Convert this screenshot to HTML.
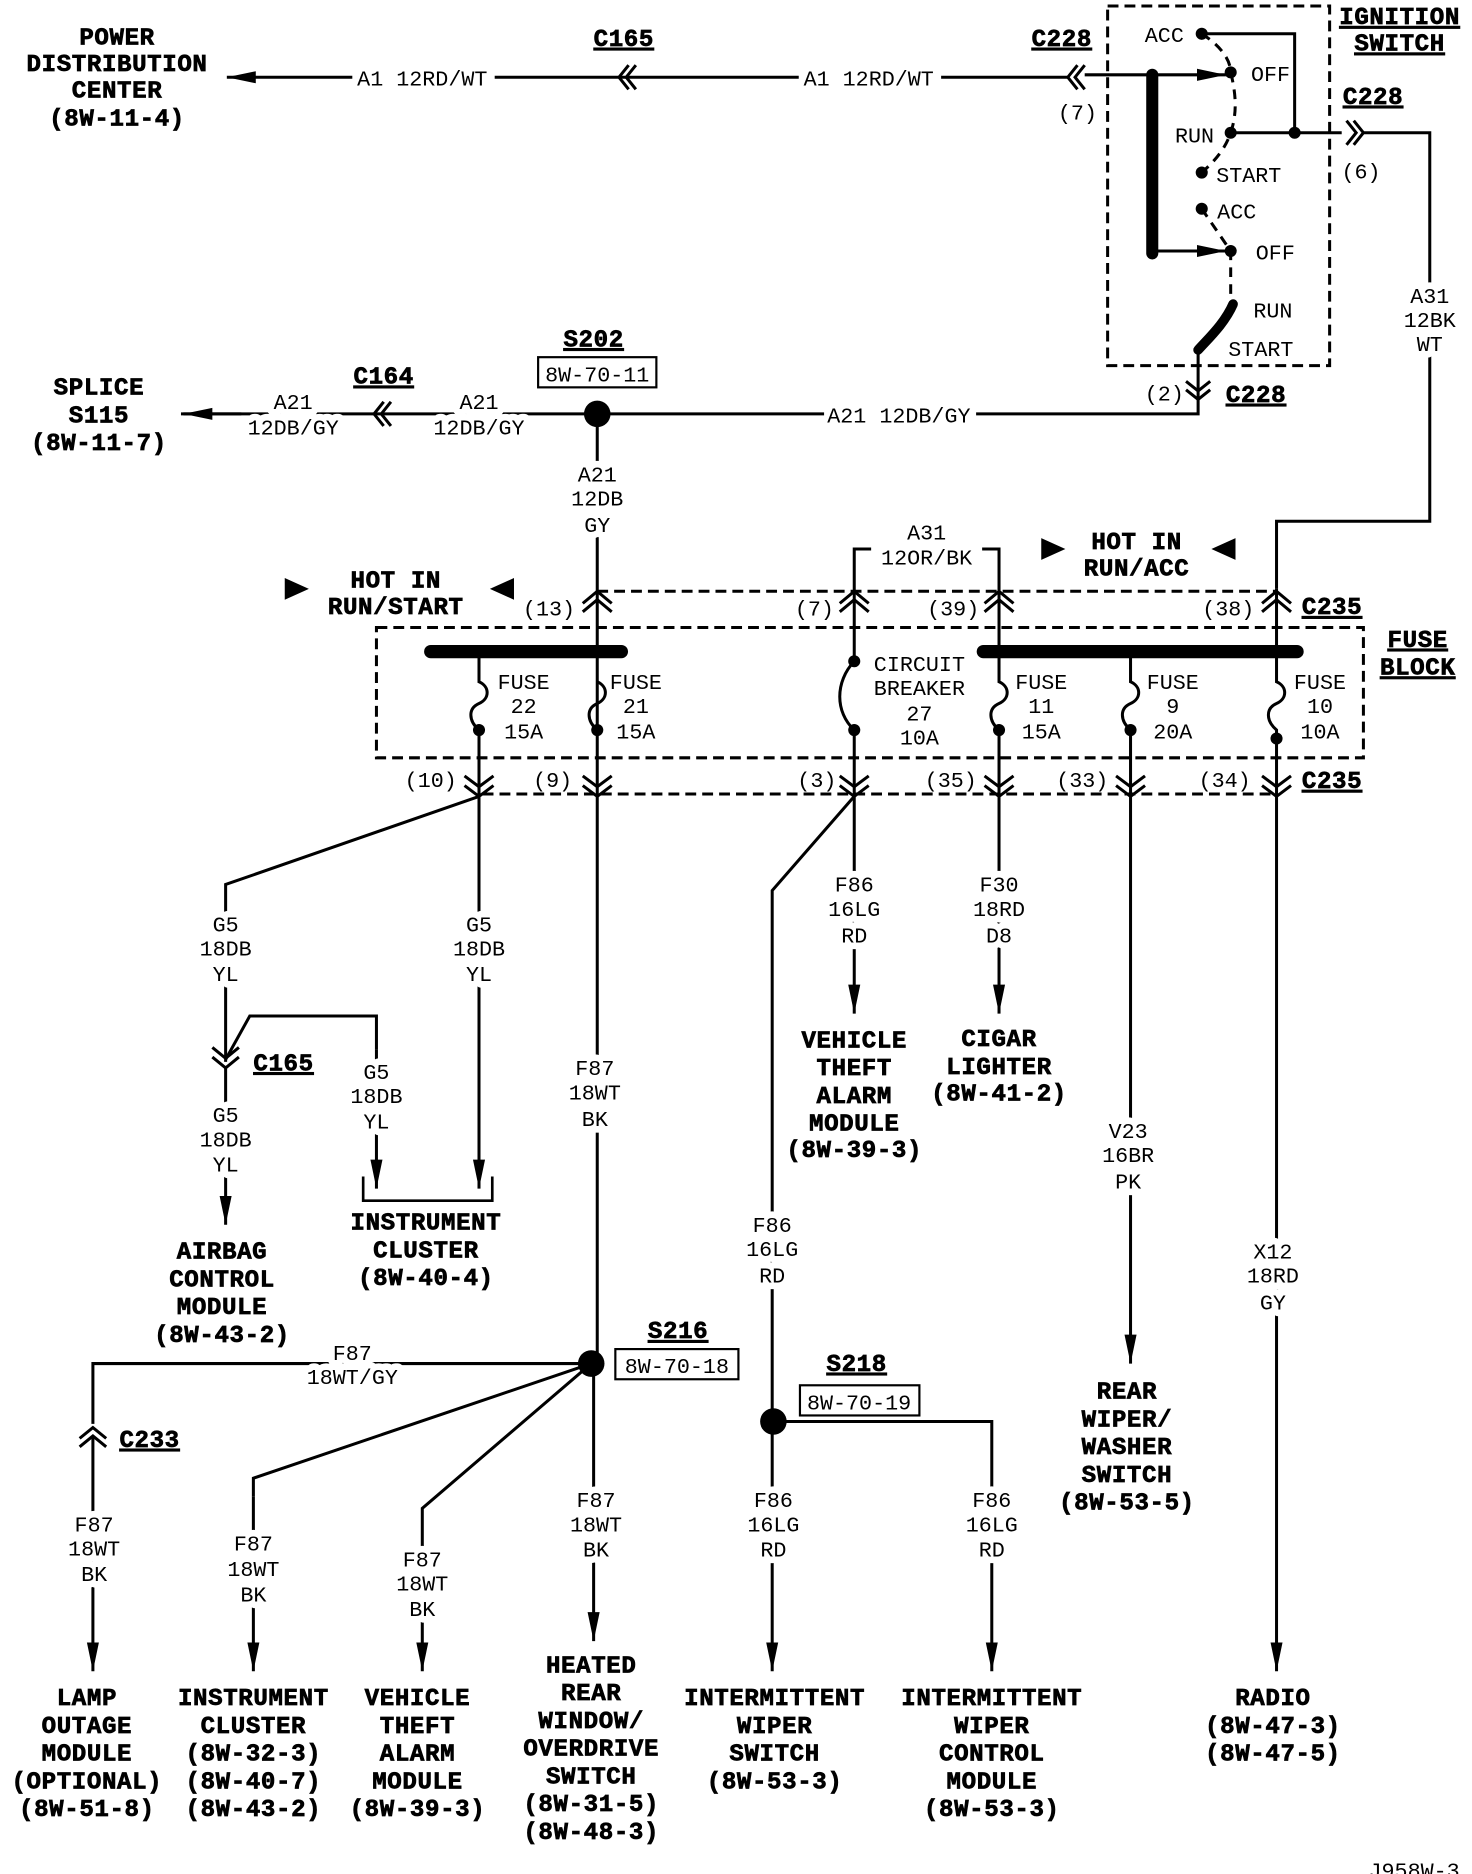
<!DOCTYPE html>
<html><head><meta charset="utf-8"><style>
html,body{margin:0;padding:0;background:#fff}
svg{display:block}
text{font-family:"Liberation Mono",monospace;font-size:18px;fill:#000}
.b{font-weight:bold;font-size:20px;letter-spacing:0.5px;stroke:#000;stroke-width:0.6}
.u{text-decoration:underline}
.h{stroke:#fff;stroke-width:11;paint-order:stroke;stroke-linejoin:round}
</style></head><body>
<svg width="1472" height="1874" viewBox="0 0 1220 1553" preserveAspectRatio="none" xmlns="http://www.w3.org/2000/svg">
<defs>
<marker id="a" markerUnits="userSpaceOnUse" markerWidth="26" markerHeight="14" refX="24" refY="6" orient="auto"><path d="M0,1 L24,6 L0,11 Z" fill="#000"/></marker>
</defs>
<g fill="none" stroke="#000" stroke-width="2.5">
<line x1="885" y1="64" x2="188" y2="64" marker-end="url(#a)"/>
<path d="M521,54 L513,64 L521,74 M527,54 L519,64 L527,74"/>
<path d="M893,54 L885,64 L893,74 M899,54 L891,64 L899,74"/>
<line x1="899" y1="62" x2="1016" y2="62" marker-end="url(#a)"/>
<rect x="918" y="5" width="184" height="298" stroke-dasharray="9,5"/>
<line x1="955" y1="62" x2="955" y2="210" stroke-width="10" stroke-linecap="round"/>
<line x1="955" y1="208" x2="1016" y2="208" marker-end="url(#a)"/>
<polyline points="996,28 1073,28 1073,110"/>
<line x1="1020" y1="110" x2="1112" y2="110"/>
<path d="M1116,100 L1124,110 L1116,120 M1122,100 L1130,110 L1122,120"/>
<polyline points="1130,110 1185,110 1185,432 1058,432 1058,488"/>
<path d="M996,28 C1012,38 1020,50 1020,60 C1025,80 1025,95 1020,110 C1015,125 1005,135 996,143" stroke-dasharray="8,6"/>
<path d="M996,173 L1020,208 L1020,250" stroke-dasharray="8,6"/>
<path d="M1022,252 C1015,268 1002,280 993,290" stroke-width="8" stroke-linecap="round"/>
<polyline points="993,290 993,343 150,343"/>
<path d="M983,316 L993,324 L1003,316 M983,323 L993,331 L1003,323"/>
<path d="M318,333 L310,343 L318,353 M324,333 L316,343 L324,353"/>
<line x1="200" y1="343" x2="152" y2="343" marker-end="url(#a)"/>
<rect x="446" y="296" width="98" height="25" stroke-width="1.8"/>
<line x1="495" y1="343" x2="495" y2="1130"/>
<line x1="495" y1="490" x2="1058" y2="490" stroke-dasharray="9,5"/>
<rect x="312" y="520" width="818" height="108" stroke-dasharray="9,5"/>
<line x1="400" y1="658" x2="1058" y2="658" stroke-dasharray="9,5"/>
<polyline points="708,490 708,455 722,455"/>
<polyline points="814,455 828,455 828,490"/>
<line x1="708" y1="490" x2="708" y2="548"/>
<line x1="708" y1="605" x2="708" y2="660"/>
<path d="M708,548 C692,565 692,590 708,605"/>
<line x1="357" y1="540" x2="515" y2="540" stroke-width="11" stroke-linecap="round"/>
<line x1="815" y1="540" x2="1075" y2="540" stroke-width="11" stroke-linecap="round"/>
<path d="M397,540 V565 c9,4 9,14 0,18 c-9,4 -9,14 0,22 V660"/>
<path d="M495,565 c9,4 9,14 0,18 c-9,4 -9,14 0,22" />
<path d="M828,490 V565 c9,4 9,14 0,18 c-9,4 -9,14 0,22 V660"/>
<path d="M937,540 V565 c9,4 9,14 0,18 c-9,4 -9,14 0,22 V660"/>
<path d="M1058,488 V565 c9,4 9,14 0,18 c-9,4 -9,14 0,22 V660"/>
<path d="M483,500 L495,490 L507,500 M483,507 L495,497 L507,507"/>
<path d="M696,500 L708,490 L720,500 M696,507 L708,497 L720,507"/>
<path d="M816,500 L828,490 L840,500 M816,507 L828,497 L840,507"/>
<path d="M1046,500 L1058,490 L1070,500 M1046,507 L1058,497 L1070,507"/>
<path d="M385,643 L397,652 L409,643 M385,651 L397,660 L409,651"/>
<path d="M483,643 L495,652 L507,643 M483,651 L495,660 L507,651"/>
<path d="M696,643 L708,652 L720,643 M696,651 L708,660 L720,651"/>
<path d="M816,643 L828,652 L840,643 M816,651 L828,660 L840,651"/>
<path d="M925,643 L937,652 L949,643 M925,651 L937,660 L949,651"/>
<path d="M1046,643 L1058,652 L1070,643 M1046,651 L1058,660 L1070,651"/>
<polyline points="397,660 187,733 187,880"/>
<path d="M176,868 L187,877 L198,868 M176,876 L187,885 L198,876"/>
<line x1="187" y1="885" x2="187" y2="1015" marker-end="url(#a)"/>
<polyline points="187,878 207,842 312,842 312,870"/>
<line x1="312" y1="870" x2="312" y2="985" marker-end="url(#a)"/>
<line x1="397" y1="660" x2="397" y2="985" marker-end="url(#a)"/>
<polyline points="301,975 301,995 408,995 408,975" stroke-width="2.2"/>
<polyline points="490,1130 77,1130 77,1180"/>
<path d="M66,1192 L77,1183 L88,1192 M66,1199 L77,1190 L88,1199"/>
<line x1="77" y1="1190" x2="77" y2="1385" marker-end="url(#a)"/>
<polyline points="490,1130 210,1225 210,1240"/>
<line x1="210" y1="1240" x2="210" y2="1385" marker-end="url(#a)"/>
<polyline points="490,1130 350,1250 350,1260"/>
<line x1="350" y1="1260" x2="350" y2="1385" marker-end="url(#a)"/>
<line x1="492" y1="1130" x2="492" y2="1360" marker-end="url(#a)"/>
<rect x="510" y="1118" width="102" height="25" stroke-width="1.8"/>
<line x1="708" y1="660" x2="708" y2="840" marker-end="url(#a)"/>
<polyline points="708,660 640,738 640,1178"/>
<line x1="828" y1="660" x2="828" y2="840" marker-end="url(#a)"/>
<line x1="937" y1="660" x2="937" y2="1130" marker-end="url(#a)"/>
<line x1="1058" y1="660" x2="1058" y2="1385" marker-end="url(#a)"/>
<polyline points="640,1178 822,1178 822,1200"/>
<line x1="822" y1="1200" x2="822" y2="1385" marker-end="url(#a)"/>
<line x1="640" y1="1178" x2="640" y2="1385" marker-end="url(#a)"/>
<rect x="663" y="1148" width="99" height="25" stroke-width="1.8"/>
</g>
<g fill="#fff">
<rect x="292" y="55" width="118" height="18"/>
<rect x="662" y="55" width="118" height="18"/>
<rect x="683" y="334" width="126" height="18"/>
</g>
<g fill="#000">
<circle cx="996" cy="28" r="5"/><circle cx="1020" cy="60" r="5"/><circle cx="1020" cy="110" r="5"/>
<circle cx="1073" cy="110" r="5"/><circle cx="996" cy="143" r="5"/><circle cx="996" cy="173" r="5"/>
<circle cx="1020" cy="208" r="5"/>
<circle cx="495" cy="343" r="11"/><circle cx="490" cy="1130" r="11"/><circle cx="641" cy="1178" r="11"/>
<circle cx="397" cy="605" r="5"/><circle cx="495" cy="605" r="5"/><circle cx="708" cy="548" r="5"/><circle cx="708" cy="605" r="5"/>
<circle cx="828" cy="605" r="5"/><circle cx="937" cy="605" r="5"/><circle cx="1058" cy="612" r="5"/>
<path d="M236,479 L256,488 L236,497 Z"/><path d="M426,479 L406,488 L426,497 Z"/>
<path d="M863,446 L883,455 L863,464 Z"/><path d="M1024,446 L1004,455 L1024,464 Z"/>
</g>
<g text-anchor="middle">
<text class="b" x="97" y="37">POWER</text><text class="b" x="97" y="59">DISTRIBUTION</text><text class="b" x="97" y="81">CENTER</text><text class="b" x="97" y="104">(8W-11-4)</text>
<text x="350" y="71">A1 12RD/WT</text><text x="720" y="71">A1 12RD/WT</text>
<text class="b u" x="517" y="38">C165</text><text class="b u" x="880" y="38">C228</text>
<text x="893" y="99">(7)</text>
<text class="b u" x="1160" y="20">IGNITION</text><text class="b u" x="1160" y="42">SWITCH</text>
<text x="965" y="35">ACC</text><text x="1053" y="67">OFF</text><text x="990" y="118">RUN</text>
<text x="1035" y="151">START</text><text x="1025" y="181">ACC</text><text x="1057" y="215">OFF</text>
<text x="1055" y="263">RUN</text><text x="1045" y="295">START</text>
<text class="b u" x="1138" y="86">C228</text><text x="1128" y="148">(6)</text>
<text class="h" x="1185" y="251">A31</text><text class="h" x="1185" y="271">12BK</text><text class="h" x="1185" y="291">WT</text>
<text x="965" y="332">(2)</text><text class="b u" x="1041" y="333">C228</text>
<text x="745" y="350">A21 12DB/GY</text>
<text class="b u" x="492" y="287">S202</text><text x="495" y="316">8W-70-11</text>
<text class="h" x="397" y="339">A21</text><text class="h" x="397" y="360">12DB/GY</text>
<text class="b u" x="318" y="318">C164</text>
<text class="h" x="243" y="339">A21</text><text class="h" x="243" y="360">12DB/GY</text>
<text class="b" x="82" y="327">SPLICE</text><text class="b" x="82" y="350">S115</text><text class="b" x="82" y="373">(8W-11-7)</text>
<text class="h" x="495" y="399">A21</text><text class="h" x="495" y="419">12DB</text><text class="h" x="495" y="441">GY</text>
<text class="b" x="328" y="487">HOT IN</text><text class="b" x="328" y="509">RUN/START</text>
<text class="b" x="942" y="455">HOT IN</text><text class="b" x="942" y="477">RUN/ACC</text>
<text x="768" y="447">A31</text><text x="768" y="468">12OR/BK</text>
<text x="455" y="510">(13)</text><text x="675" y="510">(7)</text><text x="790" y="510">(39)</text><text x="1018" y="510">(38)</text>
<text class="b u" x="1104" y="509">C235</text>
<text class="b u" x="1175" y="536">FUSE</text><text class="b u" x="1175" y="559">BLOCK</text>
<text x="434" y="571">FUSE</text><text x="434" y="591">22</text><text x="434" y="612">15A</text>
<text x="527" y="571">FUSE</text><text x="527" y="591">21</text><text x="527" y="612">15A</text>
<text x="762" y="556">CIRCUIT</text><text x="762" y="576">BREAKER</text><text x="762" y="597">27</text><text x="762" y="617">10A</text>
<text x="863" y="571">FUSE</text><text x="863" y="591">11</text><text x="863" y="612">15A</text>
<text x="972" y="571">FUSE</text><text x="972" y="591">9</text><text x="972" y="612">20A</text>
<text x="1094" y="571">FUSE</text><text x="1094" y="591">10</text><text x="1094" y="612">10A</text>
<text x="357" y="652">(10)</text><text x="458" y="652">(9)</text><text x="677" y="652">(3)</text><text x="788" y="652">(35)</text><text x="897" y="652">(33)</text><text x="1015" y="652">(34)</text>
<text class="b u" x="1104" y="653">C235</text>
<text class="h" x="187" y="772">G5</text><text class="h" x="187" y="792">18DB</text><text class="h" x="187" y="813">YL</text>
<text class="h" x="397" y="772">G5</text><text class="h" x="397" y="792">18DB</text><text class="h" x="397" y="813">YL</text>
<text class="b u" x="235" y="887">C165</text>
<text class="h" x="187" y="930">G5</text><text class="h" x="187" y="950">18DB</text><text class="h" x="187" y="971">YL</text>
<text class="h" x="312" y="894">G5</text><text class="h" x="312" y="914">18DB</text><text class="h" x="312" y="935">YL</text>
<text class="b" x="353" y="1019">INSTRUMENT</text><text class="b" x="353" y="1042">CLUSTER</text><text class="b" x="353" y="1065">(8W-40-4)</text>
<text class="b" x="184" y="1043">AIRBAG</text><text class="b" x="184" y="1066">CONTROL</text><text class="b" x="184" y="1089">MODULE</text><text class="b" x="184" y="1112">(8W-43-2)</text>
<text class="h" x="493" y="891">F87</text><text class="h" x="493" y="911">18WT</text><text class="h" x="493" y="933">BK</text>
<text class="b u" x="562" y="1109">S216</text><text x="561" y="1138">8W-70-18</text>
<text class="h" x="292" y="1127">F87</text><text class="h" x="292" y="1147">18WT/GY</text>
<text class="b u" x="124" y="1199">C233</text>
<text class="h" x="78" y="1269">F87</text><text class="h" x="78" y="1289">18WT</text><text class="h" x="78" y="1310">BK</text>
<text class="h" x="210" y="1285">F87</text><text class="h" x="210" y="1306">18WT</text><text class="h" x="210" y="1327">BK</text>
<text class="h" x="350" y="1298">F87</text><text class="h" x="350" y="1318">18WT</text><text class="h" x="350" y="1339">BK</text>
<text class="h" x="494" y="1249">F87</text><text class="h" x="494" y="1269">18WT</text><text class="h" x="494" y="1290">BK</text>
<text class="b" x="72" y="1413">LAMP</text><text class="b" x="72" y="1436">OUTAGE</text><text class="b" x="72" y="1459">MODULE</text><text class="b" x="72" y="1482">(OPTIONAL)</text><text class="b" x="72" y="1505">(8W-51-8)</text>
<text class="b" x="210" y="1413">INSTRUMENT</text><text class="b" x="210" y="1436">CLUSTER</text><text class="b" x="210" y="1459">(8W-32-3)</text><text class="b" x="210" y="1482">(8W-40-7)</text><text class="b" x="210" y="1505">(8W-43-2)</text>
<text class="b" x="346" y="1413">VEHICLE</text><text class="b" x="346" y="1436">THEFT</text><text class="b" x="346" y="1459">ALARM</text><text class="b" x="346" y="1482">MODULE</text><text class="b" x="346" y="1505">(8W-39-3)</text>
<text class="b" x="490" y="1386">HEATED</text><text class="b" x="490" y="1409">REAR</text><text class="b" x="490" y="1432">WINDOW/</text><text class="b" x="490" y="1455">OVERDRIVE</text><text class="b" x="490" y="1478">SWITCH</text><text class="b" x="490" y="1501">(8W-31-5)</text><text class="b" x="490" y="1524">(8W-48-3)</text>
<text class="h" x="708" y="739">F86</text><text class="h" x="708" y="759">16LG</text><text class="h" x="708" y="781">RD</text>
<text class="h" x="828" y="739">F30</text><text class="h" x="828" y="759">18RD</text><text class="h" x="828" y="781">D8</text>
<text class="b" x="708" y="868">VEHICLE</text><text class="b" x="708" y="891">THEFT</text><text class="b" x="708" y="914">ALARM</text><text class="b" x="708" y="937">MODULE</text><text class="b" x="708" y="959">(8W-39-3)</text>
<text class="b" x="828" y="867">CIGAR</text><text class="b" x="828" y="890">LIGHTER</text><text class="b" x="828" y="912">(8W-41-2)</text>
<text class="h" x="935" y="943">V23</text><text class="h" x="935" y="963">16BR</text><text class="h" x="935" y="985">PK</text>
<text class="b" x="934" y="1159">REAR</text><text class="b" x="934" y="1182">WIPER/</text><text class="b" x="934" y="1205">WASHER</text><text class="b" x="934" y="1228">SWITCH</text><text class="b" x="934" y="1251">(8W-53-5)</text>
<text class="h" x="640" y="1021">F86</text><text class="h" x="640" y="1041">16LG</text><text class="h" x="640" y="1063">RD</text>
<text class="b u" x="710" y="1136">S218</text><text x="712" y="1168">8W-70-19</text>
<text class="h" x="641" y="1249">F86</text><text class="h" x="641" y="1269">16LG</text><text class="h" x="641" y="1290">RD</text>
<text class="h" x="822" y="1249">F86</text><text class="h" x="822" y="1269">16LG</text><text class="h" x="822" y="1290">RD</text>
<text class="h" x="1055" y="1043">X12</text><text class="h" x="1055" y="1063">18RD</text><text class="h" x="1055" y="1085">GY</text>
<text class="b" x="642" y="1413">INTERMITTENT</text><text class="b" x="642" y="1436">WIPER</text><text class="b" x="642" y="1459">SWITCH</text><text class="b" x="642" y="1482">(8W-53-3)</text>
<text class="b" x="822" y="1413">INTERMITTENT</text><text class="b" x="822" y="1436">WIPER</text><text class="b" x="822" y="1459">CONTROL</text><text class="b" x="822" y="1482">MODULE</text><text class="b" x="822" y="1505">(8W-53-3)</text>
<text class="b" x="1055" y="1413">RADIO</text><text class="b" x="1055" y="1436">(8W-47-3)</text><text class="b" x="1055" y="1459">(8W-47-5)</text>
<text x="1172" y="1556">J958W-3</text>
</g>
</svg>
</body></html>
